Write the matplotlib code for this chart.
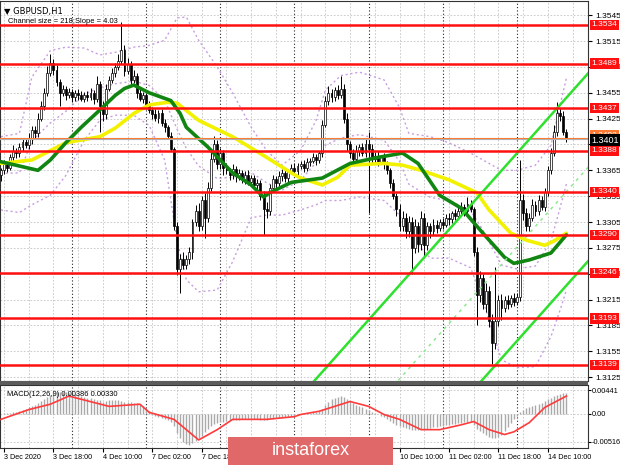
import numpy as np
import matplotlib
matplotlib.use("Agg")
import matplotlib.pyplot as plt
from matplotlib.patches import Rectangle
from matplotlib.transforms import blended_transform_factory

plt.rcParams['font.family'] = ['Liberation Sans', 'DejaVu Sans']

# GBPUSD H1 candles, pips above 1.3000 (open of each bar = previous close)
first_open = 356
closes = [359, 365, 372, 368, 380, 388, 385, 392, 398, 394, 402, 412, 408, 425, 440, 455, 478, 490, 482, 468,
          455, 460, 452, 456, 450, 455, 452, 448, 453, 450, 455, 448, 465, 440, 430, 460, 470, 478, 485, 492,
          505, 480, 488, 470, 475, 455, 448, 452, 440, 435, 430, 426, 432, 420, 415, 405, 390, 300, 250, 262,
          255, 262, 270, 305, 318, 300, 330, 310, 345, 378, 395, 372, 385, 368, 365, 360, 366, 358, 362, 355,
          360, 352, 356, 348, 350, 335, 320, 318, 345, 355, 350, 358, 362, 356, 364, 368, 364, 370, 372, 368,
          375, 376, 380, 377, 385, 418, 445, 455, 450, 458, 452, 460, 425, 395, 385, 378, 388, 392, 385, 395,
          390, 378, 382, 375, 380, 372, 365, 350, 335, 320, 300, 310, 295, 305, 275, 300, 280, 310, 278, 300,
          295, 302, 298, 305, 302, 310, 308, 315, 312, 318, 322, 318, 326, 320, 270, 220, 240, 210, 225, 190,
          165, 190, 215, 205, 215, 210, 217, 212, 218, 330, 315, 300, 310, 325, 318, 330, 322, 340, 365, 385,
          410, 432, 428, 410, 401]
upper_wick = [4, 3, 5, 3, 4, 6, 3, 5, 4, 3, 6, 4, 5, 7, 5, 6, 8, 10, 4, 5,
              3, 4, 3, 5, 4, 3, 4, 5, 3, 4, 6, 3, 10, 4, 6, 5, 4, 6, 5, 8,
              32, 5, 8, 4, 6, 3, 5, 4, 3, 5, 4, 6, 3, 4, 5, 3, 4, 2, 5, 6,
              8, 5, 6, 4, 7, 9, 5, 9, 6, 8, 10, 5, 6, 4, 5, 3, 6, 4, 5, 3,
              4, 5, 3, 4, 5, 4, 6, 8, 4, 5, 3, 6, 4, 5, 3, 4, 6, 3, 4, 5,
              4, 3, 5, 4, 3, 5, 6, 8, 5, 4, 6, 15, 5, 6, 4, 5, 6, 3, 5, 6,
              14, 5, 4, 6, 3, 5, 4, 3, 5, 4, 6, 8, 5, 7, 6, 9, 5, 8, 6, 5,
              4, 6, 5, 3, 5, 4, 6, 3, 5, 4, 6, 4, 8, 5, 3, 6, 8, 5, 9, 6,
              8, 63, 5, 6, 4, 5, 3, 6, 4, 47, 8, 6, 5, 7, 4, 6, 5, 4, 5, 6,
              8, 12, 5, 6, 3]
lower_wick = [5, 6, 4, 5, 3, 4, 6, 4, 5, 3, 4, 6, 5, 4, 3, 5, 4, 3, 6, 5,
              15, 4, 5, 3, 6, 4, 5, 3, 4, 5, 3, 6, 4, 31, 8, 5, 3, 4, 5, 3,
              4, 6, 3, 5, 4, 6, 3, 5, 4, 3, 5, 4, 6, 3, 5, 4, 3, 4, 6, 28,
              5, 4, 6, 8, 5, 6, 4, 24, 5, 4, 3, 6, 5, 8, 4, 6, 5, 7, 4, 5,
              6, 4, 5, 3, 6, 5, 30, 8, 5, 4, 6, 3, 5, 4, 6, 3, 5, 4, 3, 5,
              4, 5, 3, 6, 4, 5, 3, 4, 6, 5, 4, 3, 5, 8, 6, 5, 4, 6, 3, 5,
              74, 4, 6, 5, 3, 6, 4, 5, 3, 8, 6, 5, 9, 7, 30, 6, 10, 8, 15, 6,
              8, 5, 6, 4, 5, 3, 6, 4, 5, 3, 4, 6, 5, 3, 5, 35, 8, 6, 10, 7,
              25, 8, 6, 14, 5, 6, 4, 5, 3, 5, 8, 6, 5, 4, 6, 5, 3, 4, 5, 4,
              3, 5, 6, 4, 3]

# moving averages (knots: bar index, price)
green_idx = [1, 7, 13, 17, 22, 27, 33, 38, 41, 44, 49, 56, 59, 61, 68, 76, 82, 86, 88, 95, 105, 114, 123,
             131, 136, 143, 150, 157, 161, 164, 167, 172, 179, 184]
green_val = [375, 370, 365, 377, 397, 415, 435, 452, 460, 464, 455, 446, 431, 415, 392, 362, 348, 334, 339,
             351, 356, 373, 380, 385, 373, 336, 321, 292, 276, 264, 257, 261, 269, 290]
yellow_idx = [1, 11, 22, 33, 38, 44, 49, 55, 58, 65, 76, 87, 95, 98, 105, 110, 114, 125, 131, 137, 146,
              155, 159, 166, 171, 177, 180, 184]
yellow_val = [373, 377, 397, 404, 414, 431, 441, 444, 443, 423, 404, 380, 362, 356, 348, 357, 371, 373, 371,
              365, 354, 339, 319, 292, 284, 278, 283, 292]

# bollinger bands
band_idx = [1, 7, 11, 17, 22, 28, 33, 38, 44, 49, 54, 58, 61, 65, 71, 76, 82, 87, 92, 98, 103, 106, 111,
            117, 125, 130, 133, 140, 146, 153, 157, 163, 168, 174, 179, 182, 184]
band_up = [404, 408, 473, 504, 508, 507, 499, 502, 508, 510, 516, 542, 543, 516, 485, 455, 415, 388, 371,
           388, 423, 458, 475, 479, 470, 438, 408, 404, 397, 385, 377, 365, 365, 371, 394, 441, 472]
band_lo = [319, 316, 325, 336, 359, 400, 423, 429, 429, 417, 377, 284, 238, 224, 226, 259, 310, 313, 313,
           319, 325, 330, 330, 334, 330, 313, 290, 263, 263, 252, 214, 145, 136, 137, 172, 203, 226]

levels = [1.3534, 1.3489, 1.3437, 1.3388, 1.3340, 1.3290, 1.3246, 1.3193, 1.3139]
last_price = 1.3401
ask_price = 1.3403

# regression channel (from title: size 218, slope 4.03)
channel_size = 218
channel_slope = 4.03
channel_anchor = (175, 413)

# MACD(12,26,9), units of 0.0001
macd_hist = [-1, 0, 1, 1, 2, 3, 4, 6, 8, 10, 12, 14, 17, 20, 24, 28, 32, 35, 38, 40,
             41, 41, 40, 39, 38, 37, 35, 33, 32, 30, 29, 27, 26, 25, 23, 24, 25, 26, 26, 25,
             24, 23, 22, 22, 21, 20, 18, 14, 10, 6, -2, -4, -5, -7, -9, -11, -14, -22, -35, -45,
             -52, -56, -57, -54, -50, -45, -40, -34, -28, -23, -19, -16, -15, -14, -13, -12, -12, -11, -11, -10,
             -10, -9, -9, -9, -10, -11, -12, -12, -10, -9, -8, -7, -6, -6, -5, -4, -3, -2, -1, 0,
             1, 2, 3, 4, 6, 10, 16, 22, 27, 30, 32, 33, 32, 28, 24, 20, 17, 14, 12, 10,
             7, 4, 2, -1, -3, -6, -9, -13, -17, -20, -23, -25, -26, -28, -29, -29, -29, -28, -28, -27,
             -26, -25, -24, -23, -22, -21, -20, -19, -18, -17, -16, -15, -14, -14, -20, -27, -32, -36, -39, -42,
             -44, -44, -42, -38, -32, -25, -17, -10, -4, 3, 8, 11, 13, 15, 17, 19, 21, 24, 27, 30,
             33, 35, 37, 38, 39]
signal_idx = [1, 10, 17, 23, 36, 46, 49, 57, 65, 71, 76, 87, 96, 98, 104, 114, 120, 125, 130, 137, 143,
              150, 154, 159, 164, 167, 172, 177, 184]
signal_val = [-10, 8, 18, 33, 14, 18, 3, -10, -48, -29, -10, -10, -5, -1, 5, 23, 14, -1, -10, -29, -29,
              -20, -14, -29, -38, -33, -16, 12, 33]

x_labels = ['3 Dec 2020', '3 Dec 18:00', '4 Dec 10:00', '7 Dec 02:00', '7 Dec 18:00', '8 Dec 10:00',
            '9 Dec 02:00', '9 Dec 18:00', '10 Dec 10:00', '11 Dec 02:00', '11 Dec 18:00', '14 Dec 10:00']


def px(v):
    return 1.3 + np.asarray(v, dtype=float) / 1e4


close = px(closes)
opn = np.r_[px(first_open), close[:-1]]
high = np.maximum(opn, close) + np.array(upper_wick) / 1e4
low = np.minimum(opn, close) - np.array(lower_wick) / 1e4
n = len(close)
xi = np.arange(n)

W, H = 620, 465
fig = plt.figure(figsize=(6.2, 4.65), dpi=100)
ax = fig.add_axes([0, 84 / H, 588 / W, 380 / H])
mx = fig.add_axes([0, 17 / H, 588 / W, 63 / H])
xlim = (0.71, 191.0)

# grids
for a in (ax, mx):
    a.set_xlim(*xlim)
    for g in range(2, 192, 8):
        a.axvline(g, color='#c4c4c4', lw=0.6, ls=(0, (2, 2)), zorder=0)
    for d in range(24, 192, 24):
        a.axvline(d, color='#222222', lw=0.8, ls=(0, (1, 2)), zorder=0)
    for s in a.spines.values():
        s.set_color('#333333')
        s.set_linewidth(0.8)

yt = np.arange(1.3125, 1.3546, 0.0030)
for y in yt:
    ax.axhline(y, color='#c4c4c4', lw=0.6, ls=(0, (2, 2)), zorder=0)

ax.set_ylim(1.31204, 1.35616)
ax.yaxis.tick_right()
ax.set_yticks(yt)
ax.set_yticklabels(['%.4f' % v for v in yt])
ax.tick_params(axis='y', labelsize=6, length=3, pad=2, colors='black')
ax.set_xticks([])

# bollinger bands
b_up = px(band_up)
b_lo = px(band_lo)
for band in (b_up, (b_up + b_lo) / 2, b_lo):
    ax.plot(band_idx, band, color='#c99ee0', lw=1.0, ls=(0, (1.5, 2)), zorder=1)

# candles
up = close >= opn
ax.vlines(xi, low, high, color='black', lw=0.7, zorder=3)
body = np.maximum(np.abs(close - opn), 0.00006)
ax.bar(xi[up], body[up], bottom=opn[up], width=0.62, color='white', edgecolor='black', lw=0.5, zorder=4)
ax.bar(xi[~up], body[~up], bottom=close[~up], width=0.62, color='black', edgecolor='black', lw=0.5, zorder=4)

# moving averages
ax.plot(yellow_idx, px(yellow_val), color='#f2f200', lw=2.6, zorder=5,
        solid_capstyle='round', solid_joinstyle='round')
ax.plot(green_idx, px(green_val), color='#118511', lw=2.6, zorder=6,
        solid_capstyle='round', solid_joinstyle='round')

# channel
ci = np.array([80, 195])
c_up = px(channel_anchor[1] + channel_slope * (ci - channel_anchor[0]))
ax.plot(ci, c_up, color='#2fe02f', lw=1.8, zorder=7)
ax.plot(ci, c_up - channel_size / 2 / 1e4, color='#8fe88f', lw=1.1, ls=(0, (2, 3)), zorder=7)
ax.plot(ci, c_up - channel_size / 1e4, color='#2fe02f', lw=1.8, zorder=7)

# horizontal levels
ax.axhline(ask_price, color='#ff7a30', lw=0.8, zorder=6)
ax.axhline(last_price, color='#b0b0b0', lw=0.8, zorder=6)
for lv in levels:
    ax.axhline(lv, color='#ff1010', lw=1.8, zorder=8)

tr = blended_transform_factory(ax.transAxes, ax.transData)
for lv in levels:
    ax.annotate('%.4f' % lv, xy=(1, lv), xycoords=tr, xytext=(2.4, 0), textcoords='offset points',
                ha='left', va='center', fontsize=6, color='white', annotation_clip=False, zorder=20,
                bbox=dict(boxstyle='square,pad=0.2', fc='#ff1010', ec='none'))
ax.annotate('%.4f' % ask_price, xy=(1, ask_price + 0.0003), xycoords=tr, xytext=(2.4, 0),
            textcoords='offset points', ha='left', va='center', fontsize=6, color='white',
            annotation_clip=False, zorder=20, bbox=dict(boxstyle='square,pad=0.2', fc='#ff7a30', ec='none'))
ax.annotate('%.4f' % last_price, xy=(1, last_price - 0.0001), xycoords=tr, xytext=(2.4, 0),
            textcoords='offset points', ha='left', va='center', fontsize=6.5, color='white',
            annotation_clip=False, zorder=21, bbox=dict(boxstyle='square,pad=0.2', fc='black', ec='none'))

ax.text(0.007, 0.985, '\u25bc GBPUSD,H1', transform=ax.transAxes, fontsize=6, va='top', ha='left',
        family=['DejaVu Sans'], zorder=30)
ax.text(0.013, 0.955, 'Channel size = %d;Slope = %.2f' % (channel_size, channel_slope),
        transform=ax.transAxes, fontsize=5.4, va='top', ha='left', zorder=30)

# MACD panel
mh = np.array(macd_hist) / 1e4
mx.vlines(xi, 0, mh, color='#a9a9a9', lw=1.0, zorder=2)
mx.plot(signal_idx, np.array(signal_val) / 1e4, color='#ff3b3b', lw=1.2, zorder=3)
mx.set_ylim(-0.00629, 0.00535)
mt = [0.00441, 0.0, -0.00516]
for y in mt:
    mx.axhline(y, color='#c4c4c4', lw=0.6, ls=(0, (2, 2)), zorder=0)
mx.yaxis.tick_right()
mx.set_yticks(mt)
mx.set_yticklabels(['0.00441', '0.00', '-0.00516'])
mx.tick_params(axis='y', labelsize=5.3, length=2, pad=1)
mx.set_xticks(np.arange(2, 2 + 16 * len(x_labels), 16))
mx.set_xticklabels(x_labels, ha='left')
mx.tick_params(axis='x', labelsize=5.2, length=3, pad=1.5)
mx.text(0.012, 0.9, 'MACD(12,26,9) 0.00386 0.00330', transform=mx.transAxes, fontsize=5.4,
        va='top', ha='left')

# panel separator
fig.patches.append(Rectangle((0, 80.5 / H), 588 / W, 3.5 / H, transform=fig.transFigure,
                             fc='#5c5c5c', ec='none', zorder=10))

# watermark
fig.patches.append(Rectangle((228 / W, 0), 165 / W, 28 / H, transform=fig.transFigure,
                             fc='#e06868', ec='none', zorder=50))
fig.text(311 / W, 15 / H, 'instaforex', color='white', fontsize=13, ha='center', va='center', zorder=51)

fig.savefig('out.png', dpi=100)
